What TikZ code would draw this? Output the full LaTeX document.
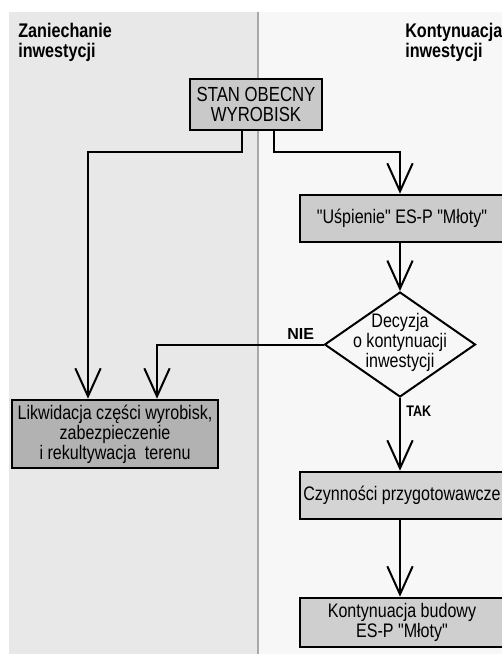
\documentclass[tikz,border=0pt]{standalone}
\usepackage{fontspec}
\setmainfont{Liberation Sans}[Ligatures=TeXOff, FakeStretch=0.82]
\newfontfamily\widefont{Liberation Sans}[Ligatures=TeXOff]
\usetikzlibrary{arrows.meta,shapes.geometric}
\definecolor{leftbg}{gray}{0.91}
\definecolor{rightbg}{gray}{0.97}
\definecolor{divider}{gray}{0.66}
\definecolor{stanfill}{gray}{0.79}
\definecolor{uspfill}{gray}{0.80}
\definecolor{likwfill}{gray}{0.70}
\definecolor{czfill}{gray}{0.83}
\definecolor{kfill}{gray}{0.81}
\begin{document}
\begin{tikzpicture}[x=0.75pt,y=-0.75pt,
  font=\fontsize{14.7}{13.5}\selectfont,
  conn/.style={line width=1.5pt, -{Straight Barb[length=21pt,width=19pt,line width=1.5pt]}},
  box/.style={draw=black, line width=1.9pt, inner sep=0pt, align=center},
  heading/.style={anchor=north west, inner sep=0pt, align=left, font=\bfseries\fontsize{14.8}{14.6}\selectfont},
  ]
\useasboundingbox (0,0) rectangle (502,654);
\clip (0,0) rectangle (502,654);
\fill[white] (0,0) rectangle (502,654);
\fill[leftbg] (9,12) rectangle (258,654);
\fill[rightbg] (258,12) rectangle (502,654);
\draw[divider, line width=1.5pt] (258,12) -- (258,654);

\node[heading] (hl) at (18,23) {Zaniechanie\\inwestycji};
\node[heading] (hr) at (405,23) {Kontynuacja\\inwestycji};

\node[box, fill=stanfill, minimum width=99pt, minimum height=38.25pt, font=\fontsize{15.3}{15}\selectfont] (stan) at (256,104.5) {STAN OBECNY\\WYROBISK};
\node[box, fill=uspfill, minimum width=153pt, minimum height=35.25pt] (usp) at (402,218.5) {"Uśpienie" ES-P "Młoty"};
\node[diamond, draw=black, line width=1.5pt, fill=rightbg, minimum width=113.25pt, minimum height=78.75pt, inner sep=0pt] (dec) at (400,344.5) {};
\node[align=center, inner sep=0pt, font=\fontsize{14.7}{13.1}\selectfont] (dect) at (400,342.5) {Decyzja\\o kontynuacji\\inwestycji};
\node[box, fill=likwfill, minimum width=154.5pt, minimum height=51pt, font=\fontsize{14.7}{15}\selectfont] (likw) at (115,434) {Likwidacja części wyrobisk,\\zabezpieczenie\\i rekultywacja\ \ terenu};
\node[box, fill=czfill, minimum width=153pt, minimum height=35.25pt] (czy) at (402,495.5) {Czynności przygotowawcze};
\node[box, fill=kfill, minimum width=153pt, minimum height=36.75pt] (kon) at (402,622.5) {Kontynuacja budowy\\ES-P "Młoty"};

\coordinate (a1) at (242,152);
\coordinate (a2) at (88,152);
\coordinate (b1) at (274,152);
\coordinate (b2) at (400,152);
\coordinate (n1) at (157,344.5);

\draw[conn] (stan.south -| a1) -- (a1) -- (a2) -- (a2 |- likw.north);
\draw[conn] (stan.south -| b1) -- (b1) -- (b2) -- (b2 |- usp.north);
\draw[conn] (dec.north |- usp.south) -- (dec.north);
\draw[conn] (dec.west) -- (n1) -- (n1 |- likw.north);
\draw[conn] (dec.south) -- (dec.south |- czy.north);
\draw[conn] (dec.south |- czy.south) -- (dec.south |- kon.north);

\node[anchor=base west, inner sep=0pt, font=\widefont\bfseries\fontsize{12}{13.5}\selectfont] (nie) at (287,339) {NIE};
\node[anchor=base west, inner sep=0pt, font=\bfseries\fontsize{11.5}{12}\selectfont] (tak) at (406,416) {TAK};
\end{tikzpicture}
\end{document}
